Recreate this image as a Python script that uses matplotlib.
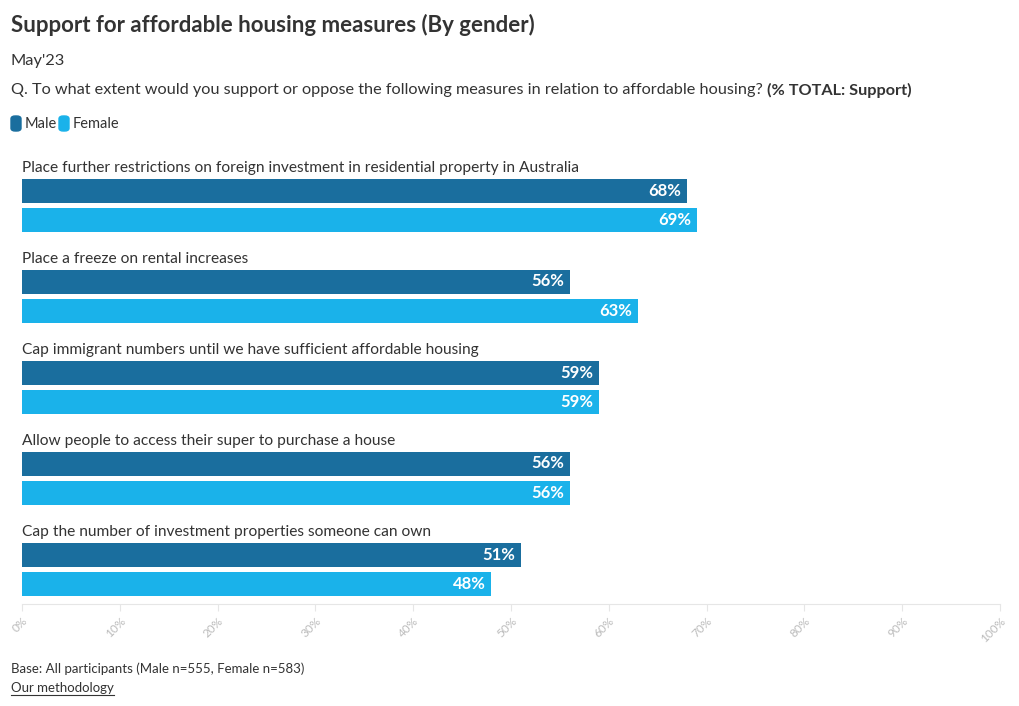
import matplotlib
matplotlib.use("Agg")
import matplotlib.pyplot as plt
from matplotlib.patches import FancyBboxPatch
from matplotlib.lines import Line2D

plt.rcParams['font.family'] = ['Lato', 'DejaVu Sans']

categories = [
    "Place further restrictions on foreign investment in residential property in Australia",
    "Place a freeze on rental increases",
    "Cap immigrant numbers until we have sufficient affordable housing",
    "Allow people to access their super to purchase a house",
    "Cap the number of investment properties someone can own",
]
male = [68, 56, 59, 56, 51]
female = [69, 63, 59, 56, 48]
ticks = [0, 10, 20, 30, 40, 50, 60, 70, 80, 90, 100]

c_male = "#1a6e9e"
c_female = "#1ab2ea"
txt = "#333333"

W, H = 1020, 706
fig = plt.figure(figsize=(W / 100, H / 100), dpi=100)

def fy(py):
    return 1 - py / H

def fx(px):
    return px / W

# axes in pixel coords: x 22..1000, y 150..604
ax = fig.add_axes([fx(22), fy(604), fx(1000) - fx(22), fy(150) - fy(604)])
ax.set_xlim(0, 100)
ax.set_ylim(604, 150)

step = 91
bh = 24
for i, cat in enumerate(categories):
    base = 166 + step * i
    ym = base + 24.5
    yf = base + 54
    ax.barh(ym, male[i], height=bh, color=c_male)
    ax.barh(yf, female[i], height=bh, color=c_female)
    ax.text(0, base + 2, cat, fontsize=11.2, color=txt, va='center', ha='left')
    ax.text(male[i] - 0.6, ym, f"{male[i]}%", fontsize=12, fontweight='bold',
            color='white', va='center', ha='right')
    ax.text(female[i] - 0.6, yf, f"{female[i]}%", fontsize=12, fontweight='bold',
            color='white', va='center', ha='right')

for s in ['top', 'right', 'left']:
    ax.spines[s].set_visible(False)
ax.spines['bottom'].set_color('#e6e6e6')
ax.set_yticks([])
ax.set_xticks(ticks)
ax.set_xticklabels([f"{t}%" for t in ticks], rotation=45, ha='right',
                   rotation_mode='anchor', fontsize=8.5, color='#bbbbbb')
ax.tick_params(axis='x', length=5, color='#e6e6e6', pad=3)

# header texts
fig.text(fx(11), fy(25), "Support for affordable housing measures (By gender)",
         fontsize=16, fontweight='bold', color=txt, va='center')
fig.text(fx(11), fy(61), "May'23", fontsize=11.8, color=txt, va='center')
q = fig.text(fx(11), fy(90), "Q. To what extent would you support or oppose the following measures in relation to affordable housing? ",
             fontsize=11.7, color=txt, va='center')
fig.canvas.draw()
r = fig.canvas.get_renderer()
bb = q.get_window_extent(r)
fig.text(bb.x1 / W, fy(90), "(% TOTAL: Support)", fontsize=11.7, fontweight='bold',
         color=txt, va='center')

# legend
for x0, col, lab in [(11, c_male, "Male"), (59, c_female, "Female")]:
    fig.patches.append(FancyBboxPatch((fx(x0), fy(131)), fx(10), fy(116) - fy(131),
                                      boxstyle="round,pad=0,rounding_size=0.004",
                                      transform=fig.transFigure, color=col))
    fig.text(fx(x0 + 14), fy(124), lab, fontsize=10.5, color=txt, va='center')

# footer
fig.text(fx(11), fy(669), "Base: All participants (Male n=555, Female n=583)",
         fontsize=9.5, color=txt, va='center')
m = fig.text(fx(11), fy(688), "Our methodology", fontsize=9.5, color=txt, va='center')
fig.canvas.draw()
mb = m.get_window_extent(fig.canvas.get_renderer())
fig.lines.append(Line2D([fx(11), mb.x1 / W], [fy(695), fy(695)],
                        transform=fig.transFigure, color=txt, lw=0.8))

fig.savefig("out.png", dpi=100)
